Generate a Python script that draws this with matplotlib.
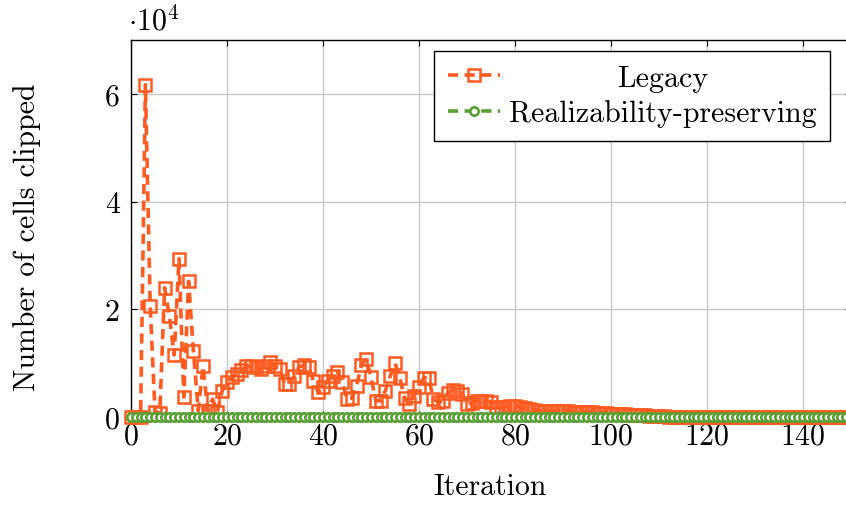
import matplotlib
matplotlib.use("Agg")
import matplotlib.pyplot as plt
from matplotlib.ticker import FixedLocator, FuncFormatter

plt.rcParams['font.family'] = 'serif'
plt.rcParams['font.serif'] = ['cmr10']
plt.rcParams['mathtext.fontset'] = 'cm'
plt.rcParams['axes.unicode_minus'] = False
plt.rcParams['axes.formatter.use_mathtext'] = True

# iterations 0..149
iterations = list(range(150))

legacy = [
    0, 0, 0, 61700, 20700, 1000, 800, 24000, 18700, 11500,
    29400, 3700, 25200, 12300, 1200, 9400, 1200, 3300, 1000, 4900,
    6500, 7500, 8000, 8700, 9400, 9500, 9300, 8900, 9500, 10200,
    9400, 9000, 6100, 6200, 7600, 9300, 9600, 9300, 6700, 4600,
    5500, 6700, 7700, 8300, 6500, 3300, 3500, 5800, 9600, 10800,
    7400, 3000, 3000, 4900, 7600, 10000, 7300, 3500, 2400, 3900,
    5500, 7300, 7300, 3300, 2800, 3000, 4500, 5000, 4900, 4300,
    2400, 2600, 3000, 3000, 3000, 2800, 1900, 1800, 1900, 2000,
    2100, 1900, 1700, 1500, 1300, 1200, 1100, 1100, 1100, 1200,
    1200, 1100, 1000, 1000, 900, 900, 900, 800, 800, 700,
    600, 600, 500, 500, 400, 400, 300, 300, 250, 200,
    150, 100, 50,
] + [0] * 37

realizability = [0] * 150

x_ticks = [0, 20, 40, 60, 80, 100, 120, 140]
y_ticks = [0, 20000, 40000, 60000]

orange = '#ff5a1f'
green = '#58a033'
fs = 21.5

fig = plt.figure(figsize=(8.46, 5.06), dpi=100)
ax = fig.add_axes([131 / 846, 88 / 506, 720 / 846, 377 / 506])

ax.plot(iterations, legacy, color=orange, lw=2.6, ls=(0, (2.8, 1.8)),
        marker='s', ms=8, mfc='none', mec=orange, mew=1.8,
        label='Legacy', clip_on=False, zorder=3)
ax.plot(iterations, realizability, color=green, lw=2.6, ls=(0, (2.8, 1.8)),
        marker='o', ms=6, mfc='white', mec=green, mew=1.9,
        label='Realizability-preserving', clip_on=False, zorder=4)

ax.set_xlim(0, 150)
ax.set_ylim(0, 70000)
ax.xaxis.set_major_locator(FixedLocator(x_ticks))
ax.yaxis.set_major_locator(FixedLocator(y_ticks))
ax.yaxis.set_major_formatter(FuncFormatter(lambda v, p: f"{v / 1e4:.0f}"))
ax.tick_params(direction='in', length=4, width=0.8, labelsize=fs,
               top=True, right=True)
ax.tick_params(axis='x', pad=4)
ax.tick_params(axis='y', pad=8)
ax.grid(True, color='#c8c8c8', lw=1.0)
ax.set_axisbelow(True)
for s in ax.spines.values():
    s.set_linewidth(1.0)

ax.set_xlabel('Iteration', fontsize=fs)
ax.set_ylabel('Number of cells clipped', fontsize=fs)
ax.xaxis.set_label_coords((490 - 131) / 720, (418 - 487) / 377)
ax.yaxis.set_label_coords((27 - 131) / 720, (418 - 237) / 377)
ax.xaxis.label.set_va('center')
ax.yaxis.label.set_va('center')
fig.text(128 / 846, 1 - 21 / 506, r'$\cdot 10^4$', fontsize=fs,
         ha='left', va='center')

leg = ax.legend(loc='upper right', bbox_to_anchor=(830 / 846, 1 - 52 / 506),
                bbox_transform=fig.transFigure, borderaxespad=0,
                fontsize=fs, numpoints=1, handlelength=1.75, handletextpad=0.3,
                fancybox=False, framealpha=1, edgecolor='black',
                borderpad=0.45, labelspacing=0.25)
leg.get_frame().set_linewidth(1.0)

# center the legend texts like pgfplots does
fig.canvas.draw()
r = fig.canvas.get_renderer()
texts = leg.get_texts()
widths = [t.get_window_extent(r).width for t in texts]
wmax = max(widths)
for t, w in zip(texts, widths):
    t.set_x((wmax - w) / 2)

fig.savefig('out.png', dpi=100)
